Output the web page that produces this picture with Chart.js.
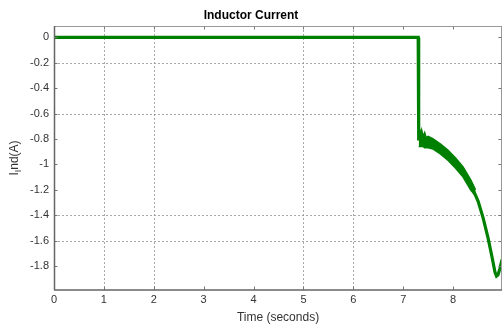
<!DOCTYPE html>
<html>
<head>
<meta charset="utf-8">
<script src="https://cdn.jsdelivr.net/npm/chart.js@4/dist/chart.umd.min.js"></script>
<style>
  html, body { margin: 0; padding: 0; background: #fff; }
  #wrap { width: 503px; height: 326px; }
</style>
</head>
<body>
<div id="wrap"><canvas id="c" width="503" height="326"></canvas></div>
<script>
// Inductor current trace (A) against time (s)
const timeS    = [0, 7.30, 7.31, 7.35, 7.45, 7.60, 7.75, 7.90, 8.05, 8.20, 8.30, 8.40, 8.50, 8.60, 8.70, 8.78, 8.84, 8.87, 8.90, 8.94, 8.98];
const currentA = [0, 0, -0.80, -0.80, -0.82, -0.84, -0.88, -0.93, -0.99, -1.06, -1.12, -1.20, -1.29, -1.42, -1.58, -1.73, -1.85, -1.88, -1.87, -1.82, -1.75];

// Ripple envelope riding on the current after the switching event
const rippleT     = [7.31, 7.32, 7.33, 7.35, 7.37, 7.40, 7.43, 7.46, 7.50, 7.60, 7.75, 7.90, 8.05, 8.20, 8.35, 8.45];
const rippleUpper = [-0.70, -0.76, -0.72, -0.77, -0.73, -0.78, -0.75, -0.79, -0.78, -0.80, -0.84, -0.89, -0.95, -1.02, -1.12, -1.20];
const rippleLower = [-0.86, -0.86, -0.86, -0.86, -0.86, -0.86, -0.87, -0.87, -0.87, -0.88, -0.92, -0.97, -1.03, -1.10, -1.20, -1.25];

// Axis ticks and labels
const xTicks = [0, 1, 2, 3, 4, 5, 6, 7, 8];
const xTickLabels = ['0', '1', '2', '3', '4', '5', '6', '7', '8'];
const yTicks = [0, -0.2, -0.4, -0.6, -0.8, -1, -1.2, -1.4, -1.6, -1.8];
const yTickLabels = ['0', '-0.2', '-0.4', '-0.6', '-0.8', '-1', '-1.2', '-1.4', '-1.6', '-1.8'];
const xGridAt = [1, 2, 5, 6];
const yGridAt = [-0.2, -0.6, -1.4, -1.6];

const X_MIN = 0, X_MAX = 8.98, Y_MIN = -1.99, Y_MAX = 0.09;
const GREEN = 'rgb(0,128,0)';
const FONT = "'Liberation Sans', Arial, sans-serif";

const pts = (xs, ys) => xs.map((x, i) => ({ x: x, y: ys[i] }));

// Box, inward ticks, sparse dotted grid and the subscripted y title
const axesBox = {
  id: 'axesBox',
  beforeDatasetsDraw(chart) {
    const { ctx, chartArea: a, scales: { x, y } } = chart;
    ctx.save();
    ctx.strokeStyle = 'rgba(140,140,140,0.75)';
    ctx.lineWidth = 1;
    ctx.setLineDash([2, 2]);
    xGridAt.forEach(v => {
      const px = Math.round(x.getPixelForValue(v)) + 0.5;
      ctx.beginPath(); ctx.moveTo(px, a.top); ctx.lineTo(px, a.bottom); ctx.stroke();
    });
    yGridAt.forEach(v => {
      const py = Math.round(y.getPixelForValue(v)) + 0.5;
      ctx.beginPath(); ctx.moveTo(a.left, py); ctx.lineTo(a.right, py); ctx.stroke();
    });
    ctx.restore();
  },
  afterDatasetsDraw(chart) {
    const { ctx, chartArea: a, scales: { x, y } } = chart;
    ctx.save();
    ctx.setLineDash([]);
    const L = 3.5;
    ctx.strokeStyle = '#777';
    ctx.lineWidth = 1;
    xTicks.forEach(v => {
      const px = Math.round(x.getPixelForValue(v)) + 0.5;
      ctx.beginPath();
      ctx.moveTo(px, a.bottom); ctx.lineTo(px, a.bottom - L);
      ctx.moveTo(px, a.top); ctx.lineTo(px, a.top + L);
      ctx.stroke();
    });
    yTicks.forEach(v => {
      const py = Math.round(y.getPixelForValue(v)) + 0.5;
      ctx.beginPath();
      ctx.moveTo(a.left, py); ctx.lineTo(a.left + L, py);
      ctx.moveTo(a.right, py); ctx.lineTo(a.right - L, py);
      ctx.stroke();
    });
    // top and right edges
    ctx.strokeStyle = '#999';
    ctx.beginPath();
    ctx.moveTo(a.left, a.top + 0.5); ctx.lineTo(a.right, a.top + 0.5);
    ctx.moveTo(a.right - 0.5, a.top); ctx.lineTo(a.right - 0.5, a.bottom);
    ctx.stroke();
    // left and bottom edges
    ctx.strokeStyle = '#666';
    ctx.lineWidth = 1.5;
    ctx.beginPath();
    ctx.moveTo(a.left + 0.5, a.top); ctx.lineTo(a.left + 0.5, a.bottom);
    ctx.moveTo(a.left, a.bottom); ctx.lineTo(a.right, a.bottom);
    ctx.stroke();

    // y title: I with subscript I, then nd(A)
    ctx.translate(15, (a.top + a.bottom) / 2);
    ctx.rotate(-Math.PI / 2);
    ctx.fillStyle = '#333';
    ctx.textBaseline = 'middle';
    const big = '12px ' + FONT, small = '9px ' + FONT;
    ctx.font = big; const w1 = ctx.measureText('I').width;
    ctx.font = small; const w2 = ctx.measureText('I').width;
    ctx.font = big; const w3 = ctx.measureText('nd(A)').width;
    let sx = -(w1 + w2 + w3) / 2;
    ctx.textAlign = 'left';
    ctx.font = big; ctx.fillText('I', sx, 0); sx += w1;
    ctx.font = small; ctx.fillText('I', sx, 4); sx += w2;
    ctx.font = big; ctx.fillText('nd(A)', sx, 0);
    ctx.restore();
  }
};

new Chart(document.getElementById('c'), {
  type: 'line',
  data: {
    datasets: [
      {
        data: pts(rippleT, rippleUpper),
        borderColor: GREEN, borderWidth: 1.5,
        backgroundColor: GREEN, fill: '+1',
        pointRadius: 0, tension: 0
      },
      {
        data: pts(rippleT, rippleLower),
        borderColor: GREEN, borderWidth: 1.5,
        fill: false, pointRadius: 0, tension: 0
      },
      {
        data: pts(timeS, currentA),
        borderColor: GREEN, borderWidth: 3.2,
        borderJoinStyle: 'miter', borderCapStyle: 'butt',
        fill: false, pointRadius: 0, tension: 0
      }
    ]
  },
  options: {
    responsive: false,
    devicePixelRatio: 1,
    animation: false,
    layout: { padding: { left: 0, right: 1, top: 0, bottom: 0 } },
    plugins: {
      legend: { display: false },
      tooltip: { enabled: false },
      title: {
        display: true,
        text: 'Inductor Current',
        color: '#000',
        font: { family: FONT, size: 12, weight: 'bold' },
        padding: { top: 8, bottom: 3.6 }
      }
    },
    scales: {
      x: {
        type: 'linear', min: X_MIN, max: X_MAX,
        afterBuildTicks: s => { s.ticks = xTicks.map(v => ({ value: v })); },
        afterFit: s => { s.height = 36; },
        grid: { display: false, drawTicks: false },
        border: { display: false },
        ticks: {
          padding: 3.5, maxRotation: 0, autoSkip: false,
          color: '#333', font: { family: FONT, size: 11 },
          callback: (v, i) => xTickLabels[i]
        },
        title: {
          display: true, text: 'Time (seconds)', color: '#333',
          font: { family: FONT, size: 12 },
          padding: { top: 2, bottom: 1.5 }
        }
      },
      y: {
        type: 'linear', min: Y_MIN, max: Y_MAX,
        afterBuildTicks: s => { s.ticks = yTicks.map(v => ({ value: v })); },
        afterFit: s => { s.width = 54; },
        grid: { display: false, drawTicks: false },
        border: { display: false },
        ticks: {
          padding: 5, autoSkip: false,
          color: '#333', font: { family: FONT, size: 11 },
          callback: (v, i) => yTickLabels[i]
        }
      }
    }
  },
  plugins: [axesBox]
});
</script>
</body>
</html>
